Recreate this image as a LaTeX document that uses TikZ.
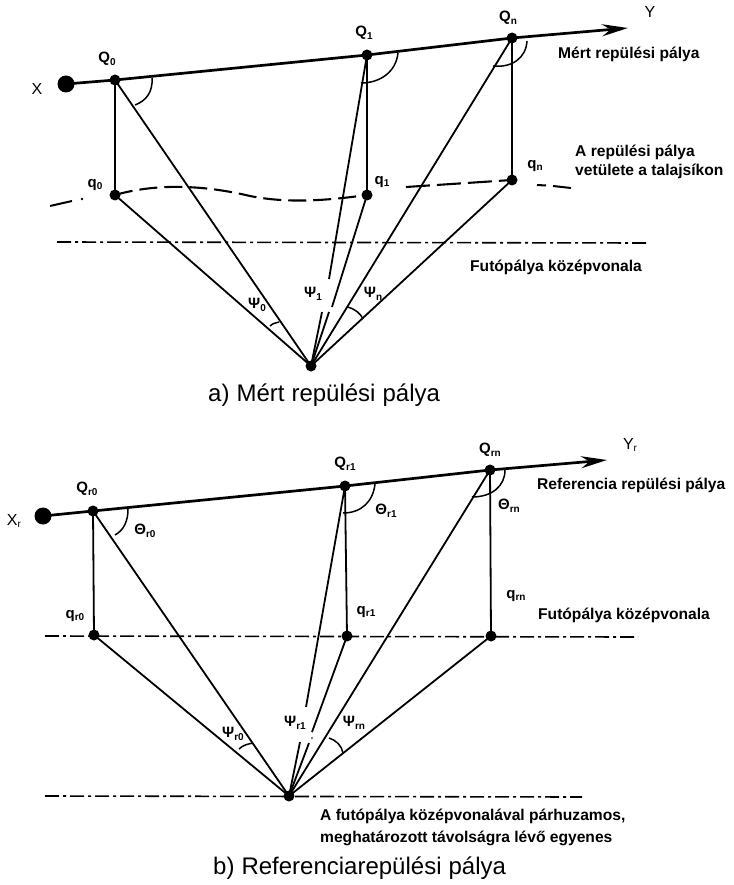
\documentclass[tikz,border=0pt]{standalone}
\usepackage{fontspec}
\setmainfont{Liberation Sans}
\usetikzlibrary{arrows.meta}
\newcommand{\lbl}[2]{#1\raisebox{-2.5pt}{\fontsize{10}{11}\selectfont #2}}
\newcommand{\capwords}[1]{\fontsize{24}{28}\selectfont\spaceskip 7pt\relax #1}
\tikzset{
  pt/.style={circle,fill=black,inner sep=0pt,minimum size=11pt},
  bigpt/.style={circle,fill=black,inner sep=0pt,minimum size=17pt},
  axisline/.style={line width=2.7pt},
  ray/.style={line width=1.8pt},
  anglearc/.style={line width=1.5pt},
  centerline/.style={line width=1.6pt,dash pattern=on 14pt off 4pt on 3pt off 4pt},
  ground/.style={line width=2.1pt,dash pattern=on 18pt off 7pt},
  tag/.style={font=\bfseries\fontsize{15}{17}\selectfont,inner sep=0pt},
  axislabel/.style={font=\fontsize{16}{18}\selectfont,inner sep=0pt},
  note/.style={font=\bfseries\fontsize{15.6}{19}\selectfont,inner sep=0pt,anchor=west,align=left},
  captext/.style={inner sep=0pt,anchor=west},
}
\begin{document}
\begin{tikzpicture}[x=1pt,y=-1pt]
\useasboundingbox[fill=white] (0,0) rectangle (733,885);
% ---------- a)
\node[bigpt] (X) at (66,84) {};
\node[pt] (Q0) at (115,80) {};
\node[pt] (Q1) at (367,55) {};
\node[pt] (Qn) at (512,38) {};
\node[pt] (q0) at (115,195) {};
\node[pt] (q1) at (367,195) {};
\node[pt] (qn) at (512,180) {};
\node[pt] (P) at (311,366) {};
\coordinate (Yend) at (628,28);
\draw[axisline,-{Stealth[length=26pt,width=12pt]}] (X.center) -- (Q0.center) -- (Q1.center) -- (Qn.center) -- (Yend);
\draw[ray] (Q0.center) -- (q0.center);
\draw[ray] (Q1.center) -- (q1.center);
\draw[ray] (Qn.center) -- (qn.center);
\draw[ray] (Q0.center) -- (P.center);
\draw[ray] (Qn.center) -- (P.center);
\draw[ray] (q0.center) -- (P.center);
\draw[ray] (qn.center) -- (P.center);
\coordinate (g1a) at (329,279); \coordinate (g1b) at (322,312);
\draw[ray] (Q1.center) -- (g1a);
\draw[ray] (g1b) -- (P.center);
\coordinate (g2a) at (332,307); \coordinate (g2b) at (329,312);
\draw[ray] (q1.center) -- (g2a);
\draw[ray] (g2b) -- (P.center);
\draw[anglearc] (152,78) .. controls (153,92) and (146,101) .. (135,105);
\draw[anglearc] (398,53) .. controls (396,72) and (380,83) .. (361,83);
\draw[anglearc] (527,41) .. controls (526,58) and (512,68) .. (493,66);
\draw[anglearc] (270,326) .. controls (273,323) and (276,323) .. (279,322);
\draw[anglearc] (348,307) .. controls (355,309) and (361,314) .. (363,319);
% ground track
\coordinate (gl1) at (50,206); \coordinate (gl2) at (72,201);
\draw[line width=2pt] (gl1) -- (gl2);
\fill (82,199) circle (1.3pt);
\draw[ground] (q0.center) .. controls (150,185) and (195,183) .. (250,196) .. controls (290,204) and (330,200) .. (q1.center);
\draw[ground,dash pattern=on 24pt off 7pt] (406,187) -- (qn.center);
\draw[line width=2pt] (537,185) -- (546,185.5);
\draw[line width=2pt] (553,186) -- (571,188);
\coordinate (c1l) at (57,242); \coordinate (c1r) at (648,243);
\draw[centerline] (c1l) -- (c1r);
% labels a
\node[axislabel] (lX) at (37,89) {X};
\node[axislabel] (lY) at (650,12) {Y};
\node[tag] (lQ0) at (107,59) {\lbl{Q}{0}};
\node[tag] (lQ1) at (364,33) {\lbl{Q}{1}};
\node[tag] (lQn) at (508,18) {\lbl{Q}{n}};
\node[tag] (lq0) at (95,185) {\lbl{q}{0}};
\node[tag] (lq1) at (382,182) {\lbl{q}{1}};
\node[tag] (lqn) at (535,166) {\lbl{q}{n}};
\node[tag] (lp0) at (257,305) {\lbl{Ψ}{0}};
\node[tag] (lp1) at (313,294) {\lbl{Ψ}{1}};
\node[tag] (lpn) at (373,294) {\lbl{Ψ}{n}};
\node[note] (n1) at (558,54) {Mért repülési pálya};
\node[note] (n2) at (575,162) {A repülési pálya\\vetülete a talajsíkon};
\node[note] (n3) at (470,267) {Futópálya középvonala};
\node[captext] (capa) at (208,395) {\capwords{a) Mért repülési pálya}};
% ---------- b)
\node[bigpt] (Xr) at (43,516) {};
\node[pt] (Qr0) at (93,511) {};
\node[pt] (Qr1) at (345,486) {};
\node[pt] (Qrn) at (490,470) {};
\node[pt] (qr0) at (94,635) {};
\node[pt] (qr1) at (347,636) {};
\node[pt] (qrn) at (491,636) {};
\node[pt] (R) at (289,796) {};
\coordinate (Yrend) at (607,460);
\draw[axisline,-{Stealth[length=26pt,width=12pt]}] (Xr.center) -- (Qr0.center) -- (Qr1.center) -- (Qrn.center) -- (Yrend);
\draw[ray] (Qr0.center) -- (qr0.center);
\draw[ray] (Qr1.center) -- (qr1.center);
\draw[ray] (Qrn.center) -- (qrn.center);
\draw[ray] (Qr0.center) -- (R.center);
\draw[ray] (Qrn.center) -- (R.center);
\draw[ray] (qr0.center) -- (R.center);
\draw[ray] (qrn.center) -- (R.center);
\coordinate (g3a) at (306,707); \coordinate (g3b) at (300,742);
\draw[ray] (Qr1.center) -- (g3a);
\draw[ray] (g3b) -- (R.center);
\coordinate (g4a) at (312,732); \coordinate (g4b) at (309,743);
\draw[ray] (qr1.center) -- (g4a);
\draw[ray] (g4b) -- (R.center);
\fill (312,738) circle (0.9pt);
\draw[anglearc] (128,509) .. controls (128,521) and (124,530) .. (115,535);
\draw[anglearc] (375,484) .. controls (373,502) and (361,513) .. (343,513);
\draw[anglearc] (505,470) .. controls (505,486) and (492,497) .. (472,497);
\draw[anglearc] (239,749) .. controls (243,745) and (248,744) .. (253,743);
\draw[anglearc] (329,738) .. controls (336,740) and (342,746) .. (343,753);
\coordinate (c2l) at (45,636); \coordinate (c2r) at (638,637);
\draw[centerline] (c2l) -- (c2r);
\coordinate (c3l) at (45,796); \coordinate (c3r) at (582,797);
\draw[centerline] (c3l) -- (c3r);
% labels b
\node[axislabel] (lXr) at (14,521) {\lbl{X}{r}};
\node[axislabel] (lYr) at (630,445) {\lbl{Y}{r}};
\node[tag] (lQr0) at (87,489) {\lbl{Q}{r0}};
\node[tag] (lQr1) at (345,464) {\lbl{Q}{r1}};
\node[tag] (lQrn) at (490,450) {\lbl{Q}{rn}};
\node[tag] (lTr0) at (145,531) {\lbl{Θ}{r0}};
\node[tag] (lTr1) at (386,511) {\lbl{Θ}{r1}};
\node[tag] (lTrn) at (509,506) {\lbl{Θ}{rn}};
\node[tag] (lqr0) at (75,616) {\lbl{q}{r0}};
\node[tag] (lqr1) at (366,612) {\lbl{q}{r1}};
\node[tag] (lqrn) at (516,596) {\lbl{q}{rn}};
\node[tag] (lpr0) at (233,734) {\lbl{Ψ}{r0}};
\node[tag] (lpr1) at (295,723) {\lbl{Ψ}{r1}};
\node[tag] (lprn) at (354,723) {\lbl{Ψ}{rn}};
\node[note] (n4) at (537,485) {Referencia repülési pálya};
\node[note] (n5) at (538,615) {Futópálya középvonala};
\node[note] (n6) at (320,827) {A futópálya középvonalával párhuzamos,\\[3pt]meghatározott távolságra lévő egyenes};
\node[captext] (capb) at (213,868) {\capwords{b) Referenciarepülési pálya}};
\end{tikzpicture}
\end{document}
